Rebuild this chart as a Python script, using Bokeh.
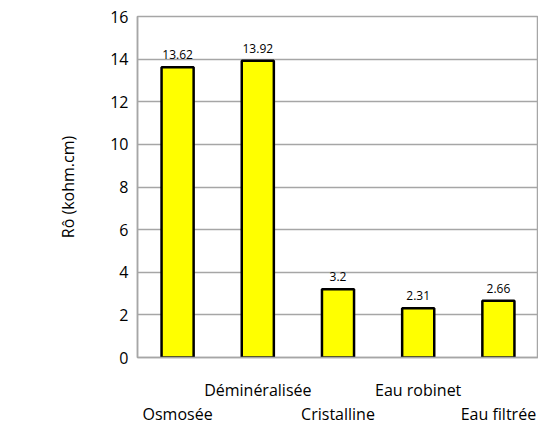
from bokeh.plotting import figure
from bokeh.models import ColumnDataSource, LinearAxis, FixedTicker, Range1d
from bokeh.core.properties import value
from bokeh.embed import file_html
from bokeh.resources import INLINE

categories = ["Osmosée", "Déminéralisée", "Cristalline", "Eau robinet", "Eau filtrée"]
values = [13.62, 13.92, 3.2, 2.31, 2.66]
labels = ["13.62", "13.92", "3.2", "2.31", "2.66"]
y_ticks = [0, 2, 4, 6, 8, 10, 12, 14, 16]

FONT = "Open Sans"
GRAY = "#a6a6a6"

pos = list(range(len(categories)))
src = ColumnDataSource(dict(x=pos, val=values, lab=labels))

p = figure(x_range=Range1d(-0.5, len(categories) - 0.5), y_range=Range1d(0, 16),
           frame_width=401, frame_height=341,
           output_backend="svg", toolbar_location=None,
           min_border_left=137, min_border_top=16, min_border_right=0, min_border_bottom=0,
           x_axis_location=None)
p.outline_line_color = GRAY
p.outline_line_width = 1.5
p.background_fill_color = "white"
p.border_fill_color = "white"

p.vbar(x="x", top="val", width=0.4, source=src, fill_color="#ffff00",
       line_color="black", line_width=2.5)
p.text(x="x", y="val", text="lab", source=src, text_align="center",
       text_baseline="bottom", y_offset=-8, text_font_size="12px",
       text_font=value(FONT), text_color="black")

p.xgrid.grid_line_color = None
p.ygrid.grid_line_color = GRAY
p.ygrid.grid_line_width = 1.5
p.yaxis.ticker = FixedTicker(ticks=y_ticks)
p.yaxis.axis_line_color = GRAY
p.yaxis.axis_line_width = 1.5
p.yaxis.major_tick_line_color = None
p.yaxis.major_tick_out = 0
p.yaxis.major_tick_in = 0
p.yaxis.minor_tick_line_color = None
p.yaxis.major_label_text_font = FONT
p.yaxis.major_label_text_font_size = "16px"
p.yaxis.major_label_text_color = "black"
p.yaxis.major_label_standoff = 9
p.yaxis.axis_label = "Rô (kohm.cm)"
p.yaxis.axis_label_text_font = FONT
p.yaxis.axis_label_text_font_size = "16px"
p.yaxis.axis_label_text_font_style = "normal"
p.yaxis.axis_label_text_color = "black"
p.yaxis.axis_label_standoff = 28

top_ticks = [i for i in pos if i % 2 == 1]
bot_ticks = [i for i in pos if i % 2 == 0]

ax1 = LinearAxis(ticker=FixedTicker(ticks=top_ticks),
                 major_label_overrides={i: categories[i] for i in top_ticks})
ax2 = LinearAxis(ticker=FixedTicker(ticks=bot_ticks),
                 major_label_overrides={i: categories[i] for i in bot_ticks})
for i, ax in enumerate([ax1, ax2]):
    ax.axis_line_color = GRAY if i == 0 else None
    ax.axis_line_width = 1.5
    ax.major_tick_line_color = None
    ax.major_tick_out = 0
    ax.major_tick_in = 0
    ax.minor_tick_line_color = None
    ax.major_label_text_font = FONT
    ax.major_label_text_font_size = "16px"
    ax.major_label_text_color = "black"
    ax.major_label_standoff = 21 if i == 0 else -1
    p.add_layout(ax, "below")

open("out.html", "w").write(file_html(p, INLINE))
